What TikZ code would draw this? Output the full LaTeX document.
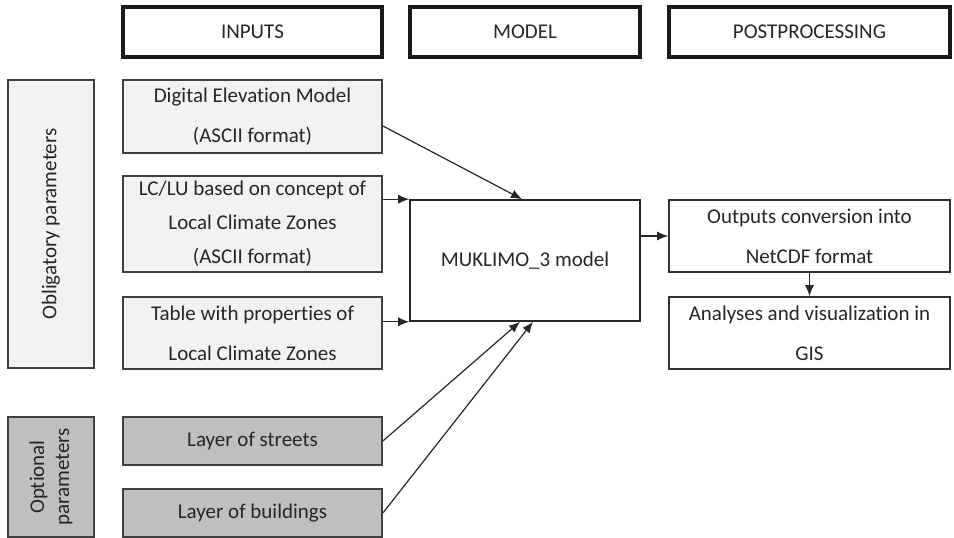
\documentclass[tikz,border=0pt]{standalone}
\usepackage{fontspec}
\setmainfont{Carlito}[Ligatures={NoCommon,NoContextual}, RawFeature=-calt]
\usetikzlibrary{positioning}
\usetikzlibrary{calc}
\usetikzlibrary{arrows.meta}

\tikzset{
  txt/.style={font=\fontsize{21}{40}\selectfont, text=black!85},
  hdr/.style={txt, draw=black!90, line width=3.5pt, minimum width=259pt, minimum height=50pt, inner sep=0pt},
  inbox/.style={txt, draw=black!75, line width=1.8pt, fill=black!5, minimum width=259pt, align=center, inner sep=0pt},
  optbox/.style={inbox, fill=black!25},
  sidebox/.style={inbox, rotate=90, minimum height=86pt},
  outbox/.style={txt, draw=black!80, line width=1.6pt, minimum width=281pt, minimum height=72pt, align=center, inner sep=0pt},
  flow/.style={-{Latex[length=11pt,width=9pt]}, line width=1.2pt, black!85},
}

\begin{document}
\begin{tikzpicture}[x=1pt, y=1pt, on grid]
        \useasboundingbox (0,0) rectangle (954,-538);

        % column headers
        \node[hdr] (inputs) at (252.5,-32) {INPUTS};
        \node[hdr, minimum width=230pt] (model) [right=272.5pt of inputs] {MODEL};
        \node[hdr, minimum width=281pt] (post) [right=284.5pt of model] {POSTPROCESSING};

        % inputs
        \node[inbox, minimum height=73pt] (dem) [below=84.5pt of inputs] {Digital Elevation Model\\(ASCII format)};
        \node[inbox, minimum height=96pt, font=\fontsize{21}{34}\selectfont] (lclu) [below=107.5pt of dem] {LC/LU based on concept of\\Local Climate Zones\\(ASCII format)};
        \node[inbox, minimum height=72pt] (table) [below=109pt of lclu] {Table with properties of\\Local Climate Zones};
        \node[optbox, minimum height=48pt] (streets) [below=108pt of table] {Layer of streets};
        \node[optbox, minimum height=48pt] (buildings) [below=72pt of streets] {Layer of buildings};

        \node[sidebox, minimum width=288pt] (oblig) [left=201.5pt of lclu] {Obligatory parameters};
        \node[sidebox, fill=black!25, minimum width=120pt, font=\fontsize{21}{25}\selectfont] (optional) [below=253pt of oblig] {Optional\\parameters};

        % model and postprocessing
        \node[outbox, minimum width=230pt, minimum height=121pt, draw=black!85] (mk) [below=228.5pt of model] {MUKLIMO\_3 model};
        \node[outbox] (outputs) [below=204pt of post] {Outputs conversion into\\NetCDF format};
        \node[outbox] (analyses) [below=97pt of outputs] {Analyses and visualization in\\GIS};

        \path [flow]
          ($(dem.east)+(0,-9.5)$) edge ($(mk.north)+(-3,0)$)
          (lclu.east |- mk.north west) edge (mk.north west)
          (table.east |- mk.south west) edge (mk.south west)
          (streets.east) edge ($(mk.south)+(-5,0)$)
          (buildings.east) edge ($(mk.south)+(8,0)$)
          (mk.east |- outputs.west) edge (outputs.west)
          (outputs.south) edge (analyses.north);

\end{tikzpicture}
\end{document}
